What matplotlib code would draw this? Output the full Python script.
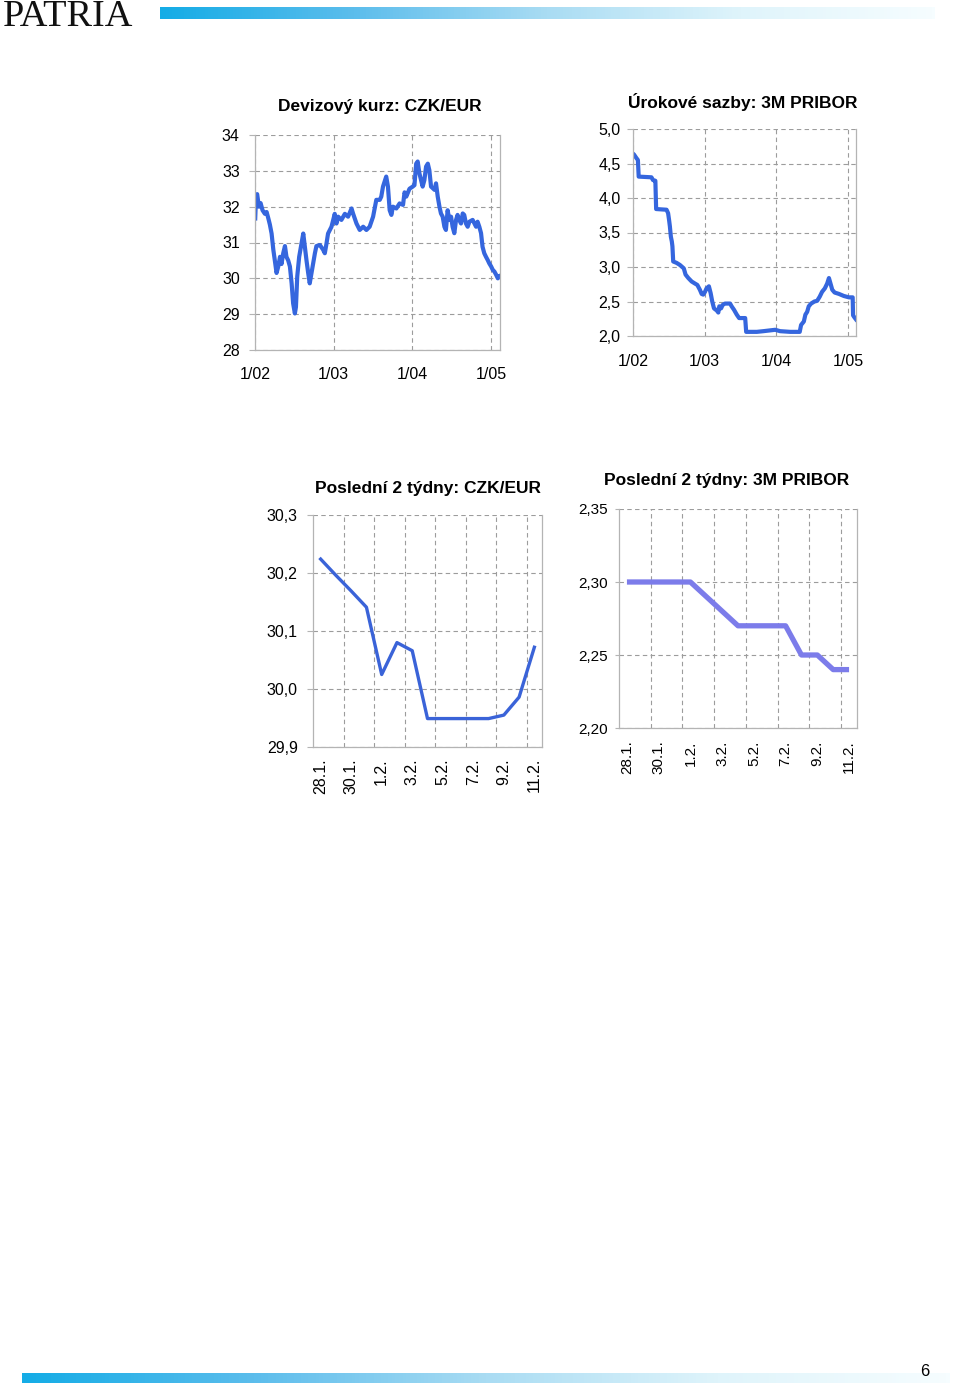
import numpy as np
import pandas as pd
import matplotlib
matplotlib.use('Agg')
import matplotlib.pyplot as plt
from matplotlib.colors import LinearSegmentedColormap
from matplotlib.ticker import FixedLocator, FuncFormatter

plt.rcParams['font.family'] = ['Liberation Sans', 'DejaVu Sans']

# ---------------- data ----------------
czk_dates = ['2002-01-02', '2002-01-06', '2002-01-11', '2002-01-19', '2002-01-27', '2002-02-05',
             '2002-02-16', '2002-02-24', '2002-03-04', '2002-03-11', '2002-03-19', '2002-03-27',
             '2002-04-03', '2002-04-11', '2002-04-19', '2002-04-27', '2002-05-04', '2002-05-12',
             '2002-05-20', '2002-05-27', '2002-06-04', '2002-06-12', '2002-06-20', '2002-06-27',
             '2002-07-05', '2002-07-10', '2002-07-16', '2002-07-25', '2002-08-05', '2002-08-13',
             '2002-08-20', '2002-08-28', '2002-09-05', '2002-09-12', '2002-09-20', '2002-09-28',
             '2002-10-06', '2002-10-13', '2002-10-29', '2002-11-13', '2002-11-21', '2002-11-29',
             '2002-12-06', '2002-12-22', '2002-12-30', '2003-01-06', '2003-01-14', '2003-01-22',
             '2003-02-06', '2003-02-22', '2003-03-09', '2003-03-25', '2003-04-01', '2003-04-17',
             '2003-05-02', '2003-05-18', '2003-06-02', '2003-06-17', '2003-07-03', '2003-07-18',
             '2003-08-03', '2003-08-10', '2003-08-18', '2003-09-02', '2003-09-10', '2003-09-18',
             '2003-09-26', '2003-10-03', '2003-10-19', '2003-11-03', '2003-11-19', '2003-11-26',
             '2003-12-04', '2003-12-19', '2004-01-03', '2004-01-11', '2004-01-19', '2004-01-26',
             '2004-02-03', '2004-02-18', '2004-02-26', '2004-03-05', '2004-03-13', '2004-03-20',
             '2004-03-28', '2004-04-13', '2004-04-20', '2004-04-28', '2004-05-06', '2004-05-13',
             '2004-05-21', '2004-05-29', '2004-06-05', '2004-06-13', '2004-06-21', '2004-06-29',
             '2004-07-06', '2004-07-14', '2004-07-22', '2004-07-29', '2004-08-06', '2004-08-14',
             '2004-08-22', '2004-08-29', '2004-09-06', '2004-09-14', '2004-09-22', '2004-10-07',
             '2004-10-23', '2004-10-30', '2004-11-07', '2004-11-15', '2004-11-22', '2004-11-30',
             '2004-12-08', '2004-12-16', '2004-12-23', '2005-01-01', '2005-01-09', '2005-01-16',
             '2005-01-24', '2005-02-01', '2005-02-05', '2005-02-11']
czk_values = [31.67, 32.30, 32.35, 32.00, 32.10, 31.90,
              31.80, 31.85, 31.67, 31.50, 31.25, 30.80,
              30.50, 30.15, 30.33, 30.60, 30.40, 30.70,
              30.90, 30.60, 30.50, 30.33, 29.86, 29.30,
              29.02, 29.20, 30.05, 30.60, 30.98, 31.25,
              30.90, 30.50, 30.14, 29.86, 30.14, 30.42,
              30.70, 30.90, 30.93, 30.80, 30.70, 30.98,
              31.25, 31.44, 31.63, 31.80, 31.53, 31.72,
              31.63, 31.80, 31.72, 31.95, 31.81, 31.53,
              31.35, 31.44, 31.35, 31.44, 31.72, 32.19,
              32.19, 32.28, 32.56, 32.84, 32.56, 31.90,
              31.77, 32.00, 31.95, 32.09, 32.05, 32.40,
              32.28, 32.50, 32.56, 32.60, 33.20, 33.26,
              32.93, 32.56, 32.74, 33.12, 33.20, 33.02,
              32.56, 32.47, 32.65, 32.28, 32.00, 31.81,
              31.72, 31.44, 31.35, 31.90, 31.63, 31.72,
              31.44, 31.26, 31.63, 31.77, 31.63, 31.53,
              31.81, 31.77, 31.53, 31.44, 31.58, 31.63,
              31.44, 31.58, 31.44, 31.26, 30.88, 30.70,
              30.60, 30.51, 30.42, 30.33, 30.23, 30.19,
              30.10, 30.00, 30.05, 30.07]

pribor_dates = ['2002-01-02', '2002-01-06', '2002-01-18', '2002-01-26', '2002-01-30', '2002-04-05',
                '2002-04-13', '2002-04-25', '2002-04-29', '2002-06-21', '2002-06-29', '2002-07-04',
                '2002-07-08', '2002-07-13', '2002-07-18', '2002-07-21', '2002-07-25', '2002-08-11',
                '2002-08-28', '2002-09-17', '2002-09-26', '2002-10-10', '2002-10-27', '2002-11-13',
                '2002-11-25', '2002-12-08', '2002-12-17', '2002-12-25', '2003-01-03', '2003-01-11',
                '2003-01-23', '2003-02-01', '2003-02-09', '2003-02-18', '2003-03-04', '2003-03-12',
                '2003-03-17', '2003-03-26', '2003-04-03', '2003-04-15', '2003-05-11', '2003-05-19',
                '2003-05-31', '2003-06-14', '2003-06-26', '2003-07-27', '2003-08-01', '2003-09-24',
                '2003-10-28', '2003-12-27', '2004-01-21', '2004-03-13', '2004-04-30', '2004-05-07',
                '2004-05-21', '2004-05-29', '2004-06-07', '2004-06-15', '2004-06-27', '2004-07-14',
                '2004-07-28', '2004-08-10', '2004-08-22', '2004-09-05', '2004-09-17', '2004-09-26',
                '2004-10-04', '2004-10-13', '2004-10-25', '2004-11-16', '2004-12-11', '2005-01-06',
                '2005-01-25', '2005-01-27', '2005-02-03', '2005-02-11']
pribor_values = [4.64, 4.63, 4.58, 4.55, 4.31, 4.30,
                 4.26, 4.25, 3.84, 3.83, 3.78, 3.68,
                 3.59, 3.44, 3.37, 3.30, 3.08, 3.06,
                 3.03, 2.98, 2.89, 2.84, 2.79, 2.76,
                 2.74, 2.67, 2.61, 2.60, 2.64, 2.69,
                 2.72, 2.62, 2.50, 2.40, 2.37, 2.34,
                 2.43, 2.40, 2.45, 2.47, 2.47, 2.43,
                 2.38, 2.31, 2.26, 2.26, 2.06, 2.06,
                 2.07, 2.09, 2.07, 2.06, 2.06, 2.16,
                 2.21, 2.31, 2.35, 2.43, 2.47, 2.50,
                 2.51, 2.57, 2.64, 2.69, 2.76, 2.84,
                 2.76, 2.67, 2.63, 2.61, 2.58, 2.56,
                 2.56, 2.30, 2.27, 2.24]

year_ticks = ['2002-01-01', '2003-01-01', '2004-01-01', '2005-01-01']
year_labels = ['1/02', '1/03', '1/04', '1/05']

days = ['28.1.', '29.1.', '30.1.', '31.1.', '1.2.', '2.2.', '3.2.', '4.2.',
        '5.2.', '6.2.', '7.2.', '8.2.', '9.2.', '10.2.', '11.2.']
czk_2w = [30.224, 30.196, 30.169, 30.141, 30.025, 30.080, 30.066, 29.949,
          29.949, 29.949, 29.949, 29.949, 29.955, 29.986, 30.072]
pribor_2w = [2.30, 2.30, 2.30, 2.30, 2.30, 2.29, 2.28, 2.27,
             2.27, 2.27, 2.27, 2.25, 2.25, 2.24, 2.24]

titles = ['Devizový kurz: CZK/EUR', 'Úrokové sazby: 3M PRIBOR',
          'Poslední 2 týdny: CZK/EUR', 'Poslední 2 týdny: 3M PRIBOR']

# ---------------- styling ----------------
W, H = 960, 1388
fig = plt.figure(figsize=(W / 100, H / 100), dpi=100)

GRID = dict(color='#9c9c9c', linestyle=(0, (4, 3)), linewidth=0.8)
SPINE = '#b4b4b4'
BLUE = '#3566de'
BLUE2 = '#3a63d8'
LAV = '#7c7cea'


def ax_px(l, t, r, b):
    return fig.add_axes([l / W, 1 - b / H, (r - l) / W, (b - t) / H])


def comma(fmt):
    return FuncFormatter(lambda v, p: (fmt % v).replace('.', ','))


def style(ax):
    for s in ['left', 'bottom', 'right']:
        ax.spines[s].set_color(SPINE)
        ax.spines[s].set_linewidth(0.9)
    ax.spines['top'].set_visible(False)
    ax.set_axisbelow(True)


# gradient bars
cmap = LinearSegmentedColormap.from_list('patria', ['#14ace6', '#5cbdec', '#a9dcf3', '#dff4fb', '#f6fdff'])
grad = np.linspace(0, 1, 256)[None, :]
for (l, t, r, b) in [(160, 7, 935, 19), (22, 1373, 950, 1383)]:
    gax = ax_px(l, t, r, b)
    gax.imshow(grad, aspect='auto', cmap=cmap, extent=[0, 1, 0, 1])
    gax.axis('off')

fig.text(3 / W, 1 - 26 / H, 'PATRIA', family='Liberation Serif', fontsize=27.5,
         va='baseline', ha='left', color='#111111')
fig.text(925 / W, 1 - 1372 / H, '6', fontsize=12, ha='center', va='center')

# ---------- chart 1: CZK/EUR ----------
xmin, xmax = pd.Timestamp('2002-01-01'), pd.Timestamp('2005-02-11')
ax1 = ax_px(255, 135, 500, 350)
style(ax1)
ax1.plot(pd.to_datetime(czk_dates), czk_values, color=BLUE, lw=3.0, solid_joinstyle='round')
ax1.set_xlim(xmin, xmax)
ax1.set_ylim(28, 34)
ax1.set_yticks(np.arange(28, 35, 1))
ax1.yaxis.set_major_formatter(FuncFormatter(lambda v, p: '%d' % v))
ax1.set_xticks(pd.to_datetime(year_ticks))
ax1.set_xticklabels(year_labels)
ax1.grid(True, **GRID)
ax1.tick_params(axis='y', length=4, color=SPINE, pad=7, labelsize=11.5)
ax1.tick_params(axis='x', length=0, pad=12, labelsize=11.5)
fig.text(380 / W, 1 - 107 / H, titles[0], fontsize=12.5, fontweight='bold', ha='center', va='center')

# ---------- chart 2: 3M PRIBOR ----------
ax2 = ax_px(633, 129, 856, 336)
style(ax2)
ax2.plot(pd.to_datetime(pribor_dates), pribor_values, color=BLUE, lw=3.0, solid_joinstyle='round')
ax2.set_xlim(xmin, xmax)
ax2.set_ylim(2.0, 5.0)
ax2.set_yticks(np.arange(2.0, 5.01, 0.5))
ax2.yaxis.set_major_formatter(comma('%.1f'))
ax2.set_xticks(pd.to_datetime(year_ticks))
ax2.set_xticklabels(year_labels)
ax2.grid(True, **GRID)
ax2.tick_params(axis='y', length=4, color=SPINE, pad=5, labelsize=11.5)
ax2.tick_params(axis='x', length=0, pad=13, labelsize=11.5)
fig.text(743 / W, 1 - 102 / H, titles[1], fontsize=12.5, fontweight='bold', ha='center', va='center')


def category_axes(ax):
    n = len(days)
    ax.set_xlim(-0.5, n - 0.5)
    ax.set_xticks(np.arange(0, n, 2))
    ax.set_xticklabels(days[::2], rotation=90)
    ax.xaxis.set_minor_locator(FixedLocator(np.arange(1.5, n - 0.5, 2)))
    ax.grid(True, axis='y', which='major', **GRID)
    ax.grid(True, axis='x', which='minor', **GRID)
    ax.tick_params(axis='x', which='both', length=0)


# ---------- chart 3: last 2 weeks CZK/EUR ----------
ax3 = ax_px(313, 515, 542, 747)
style(ax3)
ax3.plot(np.arange(len(days)), czk_2w, color=BLUE2, lw=2.4)
category_axes(ax3)
ax3.set_ylim(29.9, 30.3)
ax3.set_yticks(np.arange(29.9, 30.31, 0.1))
ax3.yaxis.set_major_formatter(comma('%.1f'))
ax3.tick_params(axis='y', length=4, color=SPINE, pad=7, labelsize=11.5)
ax3.tick_params(axis='x', pad=8, labelsize=11.5)
fig.text(428 / W, 1 - 489 / H, titles[2], fontsize=12.5, fontweight='bold', ha='center', va='center')

# ---------- chart 4: last 2 weeks PRIBOR ----------
ax4 = ax_px(619, 509, 857, 728)
style(ax4)
ax4.plot(np.arange(len(days)), pribor_2w, color=LAV, lw=3.8, solid_capstyle='butt')
category_axes(ax4)
ax4.set_ylim(2.20, 2.35)
ax4.set_yticks([2.20, 2.25, 2.30, 2.35])
ax4.yaxis.set_major_formatter(comma('%.2f'))
ax4.tick_params(axis='y', length=3, color=SPINE, pad=5, labelsize=11)
ax4.tick_params(axis='x', pad=9, labelsize=11)
fig.text(727 / W, 1 - 480 / H, titles[3], fontsize=12.5, fontweight='bold', ha='center', va='center')

fig.savefig('out.png', dpi=100)
